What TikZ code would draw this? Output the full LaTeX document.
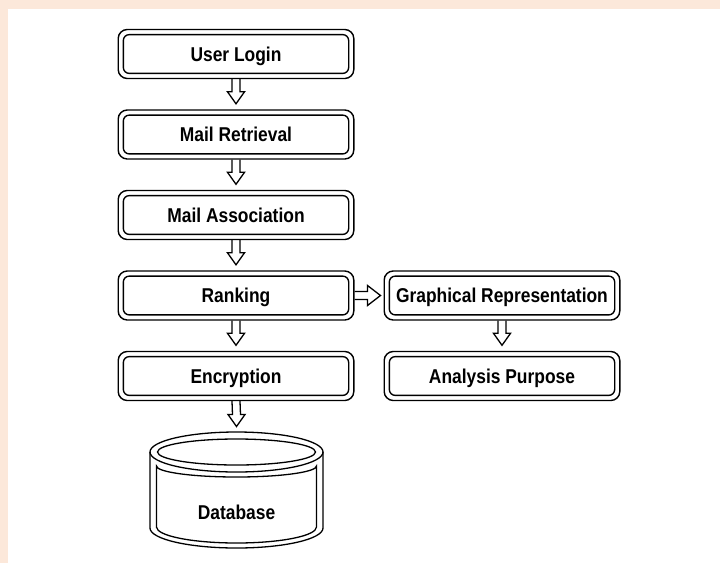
\documentclass[tikz,border=0pt]{standalone}
\usepackage{fontspec}
\setmainfont[FakeStretch=0.87]{Liberation Sans}
\usepackage{tikz}
\usetikzlibrary{calc}
\definecolor{durazno}{RGB}{252,232,218}

\tikzset{
  caja/.style={draw, line width=1.4pt, rounded corners=9pt, minimum width=235.6pt,
    minimum height=49pt, inner sep=0pt, text height=14.5pt, text depth=0pt,
    font=\bfseries\fontsize{20}{24}\selectfont,
    append after command={\pgfextra{\draw[line width=1.4pt, rounded corners=6pt]
      ([shift={(5.8pt,5.8pt)}]\tikzlastnode.south west) rectangle
      ([shift={(-5.8pt,-5.8pt)}]\tikzlastnode.north east);}}},
  texto/.style={text height=14.5pt, text depth=0pt, font=\bfseries\fontsize{20}{24}\selectfont},
  flecha/.style={line width=1.3pt, line join=miter}
}

%flecha hueca hacia abajo (desde, hasta)
\newcommand{\flechaabajo}[2]{\draw[flecha] ($(#1)+(-4,0)$) -- ($(#2)+(-4,-17.5)$)
  -- ($(#2)+(-8.5,-17.5)$) -- ($(#2)+(0,-5.5)$) -- ($(#2)+(8.5,-17.5)$)
  -- ($(#2)+(4,-17.5)$) -- ($(#1)+(4,0)$);}
%flecha hueca hacia la derecha (desde, hasta)
\newcommand{\flechaderecha}[2]{\draw[flecha] ($(#1)+(0,-4)$) -- ($(#2)+(-16,-4)$)
  -- ($(#2)+(-16,-10)$) -- ($(#2)+(-3,0)$) -- ($(#2)+(-16,10)$)
  -- ($(#2)+(-16,4)$) -- ($(#1)+(0,4)$);}

\begin{document}
\begin{tikzpicture}[x=1pt,y=-1pt]
%fondo de la figura
\useasboundingbox (0,0) rectangle (720,563);
\fill[durazno] (0,0) rectangle (720,563);
\fill[white] (8,9) rectangle (720,563);

%Cajas de la columna izquierda
\node[caja] (login) at (236,54) {User Login};
\node[caja] (retrieval) at (236,134.5) {Mail Retrieval};
\node[caja] (association) at (236,215) {Mail Association};
\node[caja] (ranking) at (236,295.5) {Ranking};
\node[caja] (encryption) at (236,376) {Encryption};

%Cajas de la columna derecha
\node[caja] (graphical) at (502,295.5) {Graphical Representation};
\node[caja] (analysis) at (502,376) {Analysis Purpose};

%Cilindro de la base de datos
\draw[line width=1.3pt] (236.5,452) ellipse [x radius=86.5, y radius=20];
\draw[line width=1.3pt] (236.5,452) ellipse [x radius=79, y radius=13];
\draw[line width=1.3pt] (150,452) -- (150,528) arc [start angle=180, end angle=0, x radius=86.5, y radius=20] -- (323,452);
\draw[line width=1.3pt] (156.5,528) -- (156.5,466) arc [start angle=180, end angle=0, x radius=80, y radius=11]
  -- (316.5,527) arc [start angle=0, end angle=180, x radius=80, y radius=16] -- cycle;
\node[texto] (db) at (236.5,512) {Database};
\coordinate (dbtop) at (236.5,432);

%Flechas entre cajas
\foreach \desde/\hasta in {login/retrieval, retrieval/association, association/ranking,
    ranking/encryption, graphical/analysis}
  \flechaabajo{\desde.south}{\hasta.north};
\flechaabajo{encryption.south}{dbtop};
\flechaderecha{ranking.east}{graphical.west};
\end{tikzpicture}
\end{document}
